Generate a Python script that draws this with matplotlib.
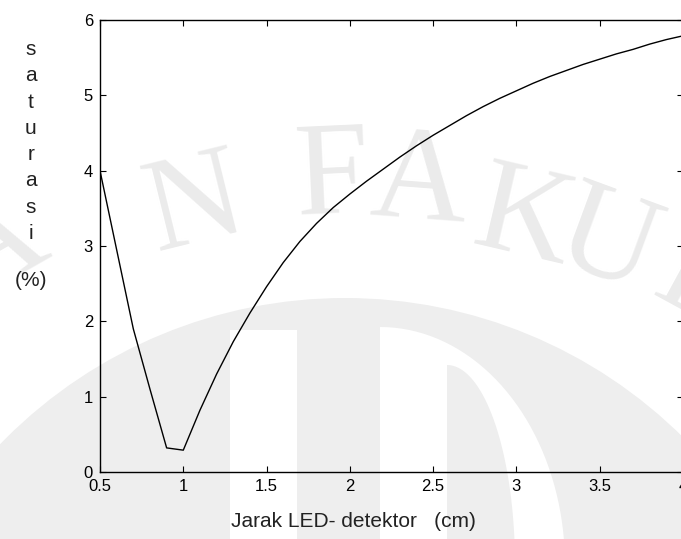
import numpy as np
import matplotlib
matplotlib.use("Agg")
import matplotlib.pyplot as plt
from matplotlib.patches import Circle, Polygon, Rectangle

# Measured saturation error vs. LED-detector distance
jarak_cm = [0.5, 0.6, 0.7, 0.8, 0.9, 1.0, 1.1, 1.2, 1.3, 1.4, 1.5, 1.6, 1.7,
            1.8, 1.9, 2.0, 2.1, 2.2, 2.3, 2.4, 2.5, 2.6, 2.7, 2.8, 2.9, 3.0,
            3.1, 3.2, 3.3, 3.4, 3.5, 3.6, 3.7, 3.8, 3.9, 4.0]
saturasi_pct = [4.00, 2.95, 1.90, 1.10, 0.32, 0.29, 0.82, 1.30, 1.73, 2.11,
                2.46, 2.78, 3.06, 3.30, 3.51, 3.69, 3.86, 4.02, 4.18, 4.33,
                4.47, 4.60, 4.73, 4.85, 4.96, 5.06, 5.16, 5.25, 5.33, 5.41,
                5.48, 5.55, 5.61, 5.68, 5.74, 5.79]

x_ticks = [0.5, 1.0, 1.5, 2.0, 2.5, 3.0, 3.5, 4.0]
x_tick_labels = ["0.5", "1", "1.5", "2", "2.5", "3", "3.5", "4"]
y_ticks = [0, 1, 2, 3, 4, 5, 6]
y_tick_labels = ["0", "1", "2", "3", "4", "5", "6"]

ylabel_letters = ["s", "a", "t", "u", "r", "a", "s", "i"]
xlabel_text = "Jarak LED- detektor   (cm)"

W, H = 681, 539
fig = plt.figure(figsize=(W / 100, H / 100), dpi=100, facecolor="white")
plt.rcParams["font.family"] = ["Liberation Sans", "DejaVu Sans"]

# ---- faint background emblem (pixel coordinates, y downward) ----
bg = fig.add_axes([0, 0, 1, 1], zorder=0)
bg.set_xlim(0, W)
bg.set_ylim(H, 0)
bg.axis("off")

mark = "#eeeeee"
bg.add_patch(Circle((345, 778), 480, color=mark, lw=0))


def right_half(cx, cy, a, b, n=80):
    t = np.linspace(-np.pi / 2, np.pi / 2, n)
    return np.column_stack([cx + a * np.cos(t), cy + b * np.sin(t)])


bg.add_patch(Rectangle((230, 330), 67, 220, color="white", lw=0))
bg.add_patch(Polygon(right_half(380, 565, 185, 238), closed=True,
                     color="white", lw=0))
bg.add_patch(Polygon(right_half(447, 565, 68, 200), closed=True,
                     color=mark, lw=0))

letters = [("A", -5, 250), ("N", 195, 208), ("F", 332, 180), ("A", 419, 185),
           ("K", 523, 222), ("U", 606, 245), ("L", 700, 285)]
cx0, cy0 = 365, 900
for ch, lx, ly in letters:
    rot = -np.degrees(np.arctan2(lx - cx0, cy0 - ly))
    bg.text(lx, ly, ch, fontsize=96, family="Liberation Serif",
            color="#ebebeb", ha="center", va="center", rotation=rot,
            rotation_mode="anchor", zorder=1)

# ---- main plot ----
ax = fig.add_axes([100 / W, 67 / H, 583 / W, 452 / H], zorder=2)
ax.set_facecolor("none")
ax.plot(jarak_cm, saturasi_pct, color="black", lw=1.0)

ax.set_xlim(0.5, 4.0)
ax.set_ylim(0, 6)
ax.set_xticks(x_ticks)
ax.set_xticklabels(x_tick_labels)
ax.set_yticks(y_ticks)
ax.set_yticklabels(y_tick_labels)
ax.tick_params(direction="in", length=4, width=0.8, top=True, right=True,
               labelsize=12, colors="black")
ax.tick_params(axis="x", pad=5)
ax.tick_params(axis="y", pad=5)
for s in ax.spines.values():
    s.set_linewidth(1.0)
    s.set_color("black")

# axis titles
fig.text(353 / W, 12 / H, xlabel_text, fontsize=15, ha="center",
         va="baseline", color="#222222")
for i, ch in enumerate(ylabel_letters):
    fig.text(31 / W, (H - (55 + 26.3 * i)) / H, ch, fontsize=15,
             ha="center", va="baseline", color="#222222")
fig.text(31 / W, (H - 286) / H, "(%)", fontsize=15, ha="center",
         va="baseline", color="#222222")

fig.savefig("out.png", dpi=100, facecolor="white")
